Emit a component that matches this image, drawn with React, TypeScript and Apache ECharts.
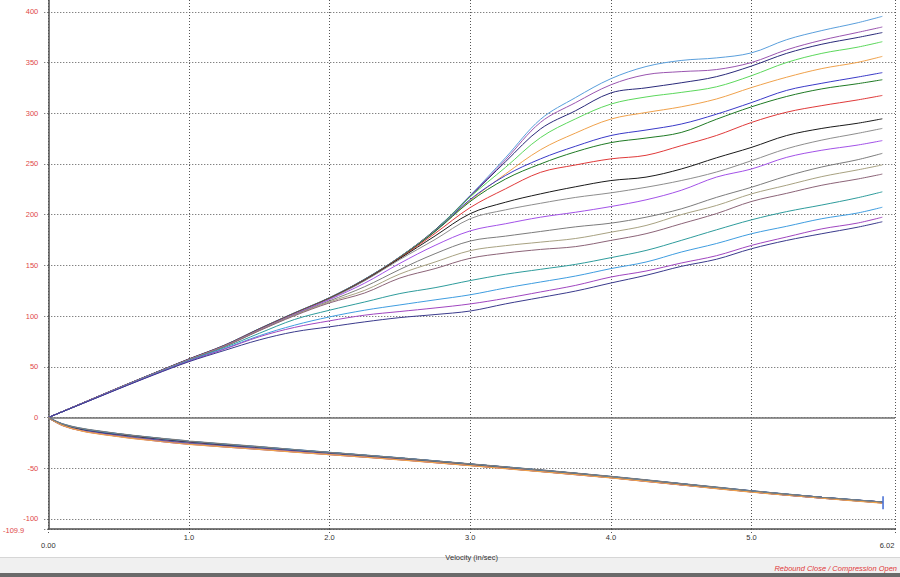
import React, { useEffect, useRef } from 'react';
import * as echarts from 'echarts';

// Velocity samples (in/sec) for compression curves
const VELOCITY = [0, 0.25, 0.5, 0.75, 1.0, 1.25, 1.5, 1.75, 2.0, 2.25, 2.5, 2.75, 3.0, 3.25, 3.5, 3.75, 4.0, 4.25, 4.5, 4.75, 5.0, 5.25, 5.5, 5.75, 5.93];

// Compression (positive) force curves
const comp01 = [0, 14.6, 29.3, 43.6, 57.6, 71, 87.4, 103, 118, 136.5, 158.5, 185, 219, 256, 294, 315.5, 334, 346, 352, 354.5, 359.5, 372.5, 381.5, 389, 395.5];
const comp02 = [0, 14.5, 29.2, 43.5, 57.5, 70.8, 87.2, 102.8, 117.8, 136.2, 158.2, 184.5, 218.5, 254, 291, 310.5, 328, 338, 341, 343, 350, 362.5, 372, 379.5, 385];
const comp03 = [0, 14.7, 29.4, 43.7, 57.8, 71.2, 87.6, 103.2, 118.2, 136.4, 158.4, 185, 218, 252, 284.5, 302.5, 320, 325, 330, 336, 346.5, 359, 368, 374.5, 379.5];
const comp04 = [0, 14.4, 29.1, 43.4, 57.4, 70.9, 87.3, 103, 118, 136.3, 158.2, 184.5, 217.5, 246.5, 276, 294.5, 309, 316, 320.5, 326, 337, 350, 359, 365, 370.5];
const comp05 = [0, 14.5, 29, 43.3, 57.3, 70.7, 87, 102.7, 117.7, 136, 158, 184, 214, 240, 264, 280.5, 294.2, 300.7, 306.3, 314, 325.3, 335.5, 344, 350, 356];
const comp06 = [0, 14.6, 29.2, 43.5, 57.4, 70.8, 87.1, 102.8, 117.8, 136.1, 157.9, 183.8, 215, 238.5, 255, 267.5, 278, 283.4, 289.3, 299, 310.5, 322.5, 329.5, 335.5, 340];
const comp07 = [0, 14.5, 29.1, 43.4, 57.3, 70.6, 86.9, 102.6, 117.6, 135.8, 157.7, 183.3, 213, 235, 250, 262, 271, 275.5, 281, 294, 306.3, 316.5, 324, 329, 333];
const comp08 = [0, 14.6, 29.2, 43.4, 57.4, 70.7, 87, 102.6, 117.5, 135.6, 157.3, 181.5, 207, 225.4, 241.7, 249, 255, 258.5, 268, 278, 290.9, 301, 307.5, 313, 317.5];
const comp09 = [0, 14.5, 29, 43.3, 57.2, 70.5, 86.8, 102.4, 117.3, 135.3, 156.8, 179, 201, 212.2, 220.5, 227.5, 233.6, 237, 245, 256, 266.3, 278, 285, 290, 294.5];
const comp10 = [0, 14.4, 29, 43.2, 57.1, 70.4, 86.6, 102.2, 117, 134.8, 155.8, 175.5, 196, 204.7, 211.2, 217, 221.5, 227, 233.6, 242, 253.2, 265, 273.5, 280, 285];
const comp11 = [0, 14.5, 29, 43.2, 57, 70.3, 86.4, 101.8, 116.3, 132.5, 152, 169.7, 184, 191, 197.5, 202.4, 208, 214.6, 224, 237, 245, 256.5, 263.5, 268.5, 273];
const comp12 = [0, 14.4, 28.9, 43.1, 56.9, 70.1, 86.1, 101.3, 115, 129, 146, 161.5, 174, 178.8, 183.4, 188, 191.6, 197.5, 205.7, 217, 227, 238, 247, 254, 260.4];
const comp13 = [0, 14.3, 28.8, 43, 56.8, 69.9, 85.8, 100.8, 114, 125.4, 141.5, 153.3, 164.5, 169.4, 172.9, 176.5, 182.7, 189.3, 200, 209, 220.5, 229, 237.5, 244, 249];
const comp14 = [0, 14.3, 28.7, 42.9, 56.6, 69.7, 85.5, 100.3, 113, 122.8, 137.5, 146.8, 157, 162.1, 165.7, 168.5, 174.6, 181.2, 191, 201, 213, 221, 229, 235, 240];
const comp15 = [0, 14.3, 28.6, 42.7, 56.3, 68.8, 83, 96.6, 105.8, 113.9, 122.2, 128, 135, 141.2, 146.1, 151, 157.6, 164.7, 174.6, 185, 194.9, 203, 209.5, 216.5, 222.5];
const comp16 = [0, 14.2, 28.5, 42.5, 55.9, 67.8, 80.6, 91, 99.2, 105.8, 111, 116, 121, 127.7, 133.6, 139.5, 146.8, 153.3, 163.1, 171.5, 181.2, 188.5, 196, 201.5, 207.3];
const comp17 = [0, 14.2, 28.4, 42.3, 55.6, 67.3, 79.6, 88.8, 95.3, 100.9, 104.5, 108, 112, 117.5, 123.8, 130.3, 138.5, 144.4, 152.3, 159.5, 169.7, 178, 186, 191.6, 197.5];
const comp18 = [0, 14.1, 28.2, 42, 55, 66, 76.5, 84.5, 89.4, 94.3, 98.5, 101.5, 105, 112, 118.3, 124.7, 132.6, 140.2, 149, 156, 166.4, 174.6, 181.2, 187.5, 193];

// Velocity samples for rebound curves
const REB_VELOCITY = [0, 0.1, 0.25, 0.5, 0.75, 1, 1.5, 2, 2.5, 3, 3.5, 4, 4.5, 5, 5.5, 5.93];

// Rebound (negative) force curves
const reb01 = [0, -6.5, -11.5, -16.3, -20.3, -23.8, -29.2, -34.6, -40, -46, -52, -58.4, -65.4, -72.5, -78.8, -83.4];
const reb02 = [0, -6.7, -11.8, -16.6, -20.6, -24.1, -29.5, -34.9, -40.2, -46.2, -52.2, -58.5, -65.5, -72.6, -78.9, -83.5];
const reb03 = [0, -7, -12.3, -17.2, -21.2, -24.7, -30, -35.3, -40.6, -46.5, -52.4, -58.7, -65.7, -72.8, -79, -83.7];
const reb04 = [0, -6.8, -12.1, -17, -21, -24.5, -29.8, -35.1, -40.4, -46.4, -52.3, -58.6, -65.6, -72.7, -78.9, -83.6];
const reb05 = [0, -7.2, -12.8, -17.8, -21.8, -25.3, -30.5, -35.8, -41, -46.8, -52.7, -59, -66, -73, -79.2, -83.8];
const reb06 = [0, -6.4, -11.4, -16.2, -20.1, -23.6, -29, -34.5, -39.9, -45.9, -51.9, -58.3, -65.3, -72.4, -78.7, -83.4];
const reb07 = [0, -7.1, -12.6, -17.6, -21.6, -25.1, -30.3, -35.6, -40.8, -46.7, -52.6, -58.9, -65.9, -72.9, -79.1, -83.7];
const reb08 = [0, -7.5, -13.2, -18.3, -22.3, -25.8, -31, -36.2, -41.3, -47.1, -53, -59.2, -66.2, -73.2, -79.3, -84];
const reb09 = [0, -7.3, -12.9, -18, -22, -25.5, -30.7, -36, -41.1, -46.9, -52.8, -59.1, -66.1, -73.1, -79.2, -83.9];
const reb10 = [0, -6.9, -12.2, -17.1, -21.1, -24.6, -29.9, -35.2, -40.5, -46.4, -52.4, -58.7, -65.7, -72.7, -79, -83.6];
const reb11 = [0, -6.6, -11.7, -16.5, -20.5, -24, -29.4, -34.8, -40.1, -46.1, -52.1, -58.5, -65.5, -72.6, -78.8, -83.5];
const reb12 = [0, -7.4, -13, -18.1, -22.1, -25.6, -30.8, -36.1, -41.2, -47, -52.9, -59.1, -66.1, -73.1, -79.2, -83.9];
const reb13 = [0, -7.6, -13.3, -18.4, -22.5, -26, -31.2, -36.4, -41.5, -47.2, -53.1, -59.3, -66.3, -73.3, -79.4, -84.1];
const reb14 = [0, -7.7, -13.5, -18.6, -22.7, -26.2, -31.4, -36.5, -41.6, -47.3, -53.2, -59.4, -66.4, -73.4, -79.5, -84.2];
const reb15 = [0, -6.6, -11.6, -16.4, -20.4, -23.9, -29.3, -34.7, -40, -46, -52, -58.4, -65.4, -72.5, -78.8, -83.4];
const reb16 = [0, -6.3, -11.2, -16, -19.9, -23.4, -28.9, -34.4, -39.8, -45.8, -51.8, -58.2, -65.2, -72.3, -78.6, -83.3];
const reb17 = [0, -7.8, -13.7, -18.8, -22.9, -26.4, -31.5, -36.6, -41.7, -47.4, -53.3, -59.5, -66.5, -73.5, -79.6, -84.3];
const reb18 = [0, -6.2, -11, -15.8, -19.7, -23.2, -28.7, -34.3, -39.7, -45.7, -51.7, -58.1, -65.1, -72.2, -78.6, -83.3];

const COLORS = [
  '#5a9fdc', '#9a55b0', '#2a2a7a', '#5cd85c', '#f0a24c', '#3a3ac8',
  '#1f7a24', '#e03a3a', '#1a1a1a', '#8e8e8e', '#a352e8', '#7c7c7c',
  '#a8a282', '#8c6478', '#2e9c9c', '#3f9de0', '#a046c0', '#3a3a8c',
];

const Y_TICKS = [-109.9, -100, -50, 0, 50, 100, 150, 200, 250, 300, 350, 400];
const X_TICKS = [0, 1, 2, 3, 4, 5, 6.02];
const Y_MIN = -109.9;
const Y_MAX = 411.6;
const X_MAX = 6.02;
const CURSOR = [5.935, -84];

const COMP = [comp01, comp02, comp03, comp04, comp05, comp06, comp07, comp08, comp09, comp10, comp11, comp12, comp13, comp14, comp15, comp16, comp17, comp18];
const REB = [reb01, reb02, reb03, reb04, reb05, reb06, reb07, reb08, reb09, reb10, reb11, reb12, reb13, reb14, reb15, reb16, reb17, reb18];

const FONT = '"Liberation Sans", Arial, sans-serif';

export default function App() {
  const ref = useRef<HTMLDivElement>(null);
  useEffect(() => {
    if (!ref.current) return;
    const chart = echarts.init(ref.current, undefined, { renderer: 'svg' });
    const series: any[] = [];
    COMP.forEach((arr, i) => {
      series.push({
        type: 'line',
        data: VELOCITY.map((v, j) => [v, arr[j]]),
        showSymbol: false,
        symbol: 'none',
        smooth: 0.35,
        lineStyle: { width: 1, color: COLORS[i] },
        itemStyle: { color: COLORS[i] },
        silent: true,
        z: 3,
        ...(i === 0
          ? {
              markLine: {
                silent: true,
                symbol: 'none',
                label: { show: false },
                lineStyle: { color: '#707070', width: 1.5, type: 'solid' },
                data: [{ yAxis: 0 }],
                z: 2,
              },
            }
          : {}),
      });
    });
    REB.forEach((arr, i) => {
      series.push({
        type: 'line',
        data: REB_VELOCITY.map((v, j) => [v, arr[j]]),
        showSymbol: false,
        symbol: 'none',
        smooth: 0.3,
        lineStyle: { width: 1.2, color: COLORS[(i * 7) % COLORS.length] },
        itemStyle: { color: COLORS[(i * 7) % COLORS.length] },
        silent: true,
        z: 3,
        ...(i === REB.length - 1
          ? {
              markPoint: {
                silent: true,
                symbol: 'rect',
                symbolSize: [1.6, 13],
                itemStyle: { color: '#4d74d6' },
                label: { show: false },
                data: [{ coord: CURSOR }],
              },
            }
          : {}),
      });
    });

    chart.setOption({
      animation: false,
      backgroundColor: '#ffffff',
      grid: { left: 48, right: 5, top: 0, bottom: 48, containLabel: false },
      xAxis: {
        type: 'value',
        min: 0,
        max: X_MAX,
        name: 'Velocity (in/sec)',
        nameLocation: 'middle',
        nameGap: 21,
        nameTextStyle: { fontSize: 7.5, color: '#333', fontFamily: FONT },
        axisLine: { show: true, onZero: false, lineStyle: { color: '#505050', width: 1.5 } },
        axisTick: {
          show: true,
          length: 5,
          customValues: X_TICKS,
          lineStyle: { color: '#555', type: [1, 2] },
        },
        axisLabel: {
          customValues: X_TICKS,
          showMinLabel: true,
          showMaxLabel: true,
          fontSize: 7.5,
          color: '#333',
          fontFamily: FONT,
          margin: 4,
          formatter: (v: number) =>
            v === 0 ? '{e|0.00}' : v === X_MAX ? '{f|6.02}' : v.toFixed(1),
          rich: {
            e: { fontSize: 7.5, color: '#333', fontFamily: FONT, padding: [8, 0, 0, 0] },
            f: { fontSize: 7.5, color: '#333', fontFamily: FONT, padding: [8, 16, 0, 0] },
          },
        },
        splitLine: { show: true, lineStyle: { color: '#555', width: 1, type: [1, 2] } },
      },
      yAxis: {
        type: 'value',
        min: Y_MIN,
        max: Y_MAX,
        axisLine: { show: true, onZero: false, lineStyle: { color: '#505050', width: 1.5 } },
        axisTick: {
          show: true,
          length: 5,
          customValues: Y_TICKS,
          lineStyle: { color: '#555', type: [1, 2] },
        },
        axisLabel: {
          customValues: Y_TICKS,
          showMinLabel: true,
          showMaxLabel: true,
          fontSize: 7.5,
          color: '#e04848',
          fontFamily: FONT,
          margin: 10,
          formatter: (v: number) => (v === Y_MIN ? '{m|-109.9}' : String(v)),
          rich: {
            m: { fontSize: 7.5, color: '#e04848', fontFamily: FONT, padding: [2, 14, 0, 0] },
          },
        },
        splitLine: { show: true, lineStyle: { color: '#555', width: 1, type: [1, 2] } },
      },
      graphic: [
        { type: 'rect', shape: { x: 0, y: 557, width: 900, height: 16 }, style: { fill: '#f0f0f0' }, silent: true },
        { type: 'line', shape: { x1: 0, y1: 557.5, x2: 900, y2: 557.5 }, style: { stroke: '#d6d6d6', lineWidth: 1 }, silent: true },
        { type: 'rect', shape: { x: 0, y: 573, width: 900, height: 4 }, style: { fill: '#6a6a6a' }, silent: true },
        {
          type: 'text',
          x: 897,
          y: 568,
          style: {
            text: 'Rebound Close / Compression Open',
            fill: '#e03a3a',
            fontSize: 7.5,
            fontStyle: 'italic',
            fontFamily: FONT,
            align: 'right',
            verticalAlign: 'middle',
          },
          silent: true,
        },
      ],
      series,
    });
    return () => chart.dispose();
  }, []);
  return (
    <div
      ref={ref}
      style={{ position: 'absolute', left: 0, top: 0, width: 900, height: 577, background: '#fff' }}
    />
  );
}
